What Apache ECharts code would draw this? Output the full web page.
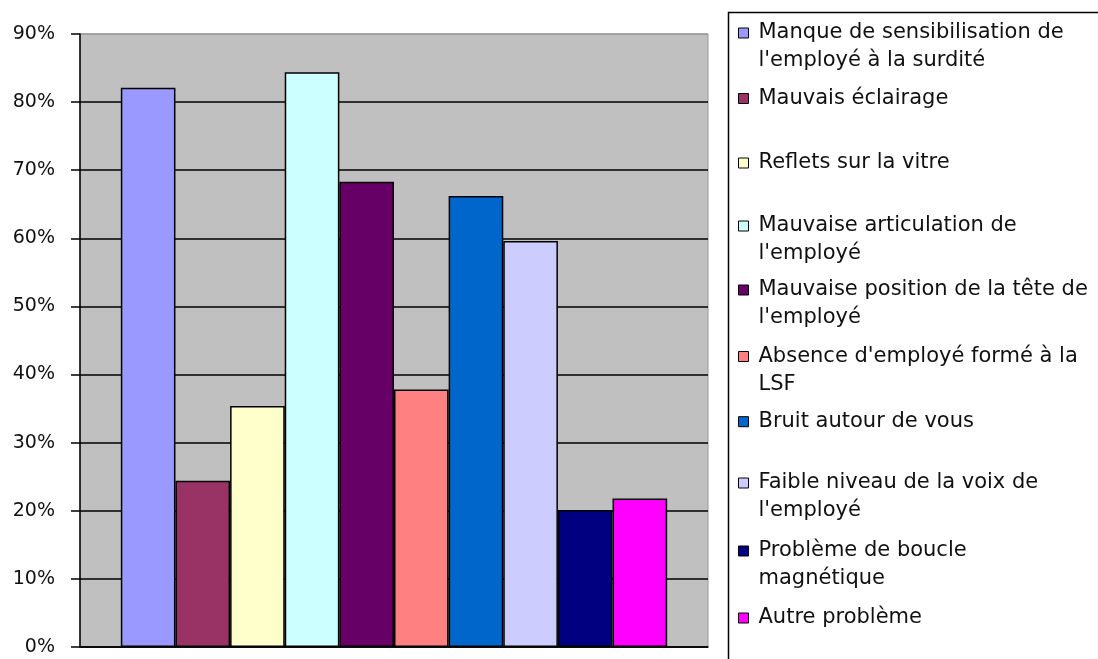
<!DOCTYPE html>
<html>
<head>
<meta charset="utf-8">
<script src="https://cdn.jsdelivr.net/npm/echarts@6/dist/echarts.min.js"></script>
<style>
  html, body { margin: 0; padding: 0; background: #fff; }
  #chart { width: 1098px; height: 659px; }
</style>
</head>
<body>
<div id="chart"></div>
<script>
// Survey answers: share of respondents citing each problem (percent)
const problems = [
  "Manque de sensibilisation de\nl'employé à la surdité",
  "Mauvais éclairage",
  "Reflets sur la vitre",
  "Mauvaise articulation de\nl'employé",
  "Mauvaise position de la tête de\nl'employé",
  "Absence d'employé formé à la\nLSF",
  "Bruit autour de vous",
  "Faible niveau de la voix de\nl'employé",
  "Problème de boucle\nmagnétique",
  "Autre problème"
];
const shares = [82.1, 24.4, 35.4, 84.4, 68.3, 37.8, 66.2, 59.6, 20.1, 21.8];
const colors = ['#9999FF', '#993366', '#FFFFCC', '#CCFFFF', '#660066',
                '#FF8080', '#0066CC', '#CCCCFF', '#000080', '#FF00FF'];
const yTicks = [0, 10, 20, 30, 40, 50, 60, 70, 80, 90];

// vertical centre of each legend marker
const legendRows = [33, 98.5, 163, 226, 290, 356.5, 421.7, 483, 551, 618];

const FONT = 'DejaVu Sans';
const LINE = 28;

const series = problems.map((name, i) => ({
  name: name,
  type: 'bar',
  data: [shares[i]],
  barGap: '0%',
  barCategoryGap: '13%',
  itemStyle: { color: colors[i], borderColor: '#000', borderWidth: 1.5 },
  emphasis: { disabled: true }
}));

// one legend block per entry; wrapped entries get a blank leading line so the
// marker (centred on the text block) lines up with the first visible line
const legends = problems.map((name, i) => {
  const twoLines = name.indexOf('\n') >= 0;
  return {
    data: [name],
    orient: 'vertical',
    left: 738,
    top: legendRows[i] - 14 - (twoLines ? LINE : 0),
    padding: 0,
    itemWidth: 10,
    itemHeight: 10,
    icon: 'rect',
    selectedMode: false,
    formatter: (n) => (twoLines ? ' \n' + n : n),
    itemStyle: { borderColor: '#000', borderWidth: 1 },
    textStyle: {
      fontFamily: FONT,
      fontSize: 21,
      color: '#111',
      lineHeight: LINE,
      padding: [0, 0, 0, 5]
    }
  };
});

const chart = echarts.init(document.getElementById('chart'), null, { renderer: 'canvas' });
chart.setOption({
  animation: false,
  backgroundColor: '#fff',
  grid: {
    left: 80, right: 390, top: 34, bottom: 12,
    show: true,
    backgroundColor: '#C0C0C0',
    borderColor: '#9a9a9a',
    borderWidth: 1
  },
  xAxis: {
    type: 'category',
    data: [''],
    axisLine: { show: true, lineStyle: { color: '#000', width: 1.5 } },
    axisTick: { show: false },
    axisLabel: { show: false },
    splitLine: { show: false }
  },
  yAxis: {
    type: 'value',
    min: yTicks[0],
    max: yTicks[yTicks.length - 1],
    interval: 10,
    axisLine: { show: true, lineStyle: { color: '#000', width: 1.5 } },
    axisTick: { show: true, length: 9, lineStyle: { color: '#000', width: 1.5 } },
    axisLabel: {
      formatter: '{value}%',
      margin: 25,
      fontFamily: FONT,
      fontSize: 19,
      color: '#111'
    },
    splitLine: {
      show: true,
      lineStyle: {
        color: ['#000', '#000', '#000', '#000', '#000', '#000', '#000', '#000', '#000', '#9a9a9a'],
        width: 1.5
      }
    }
  },
  legend: legends,
  graphic: [{
    type: 'rect',
    shape: { x: 728.5, y: 12.5, width: 500, height: 800 },
    style: { fill: 'none', stroke: '#000', lineWidth: 1.5 },
    silent: true
  }],
  series: series
});
</script>
</body>
</html>
